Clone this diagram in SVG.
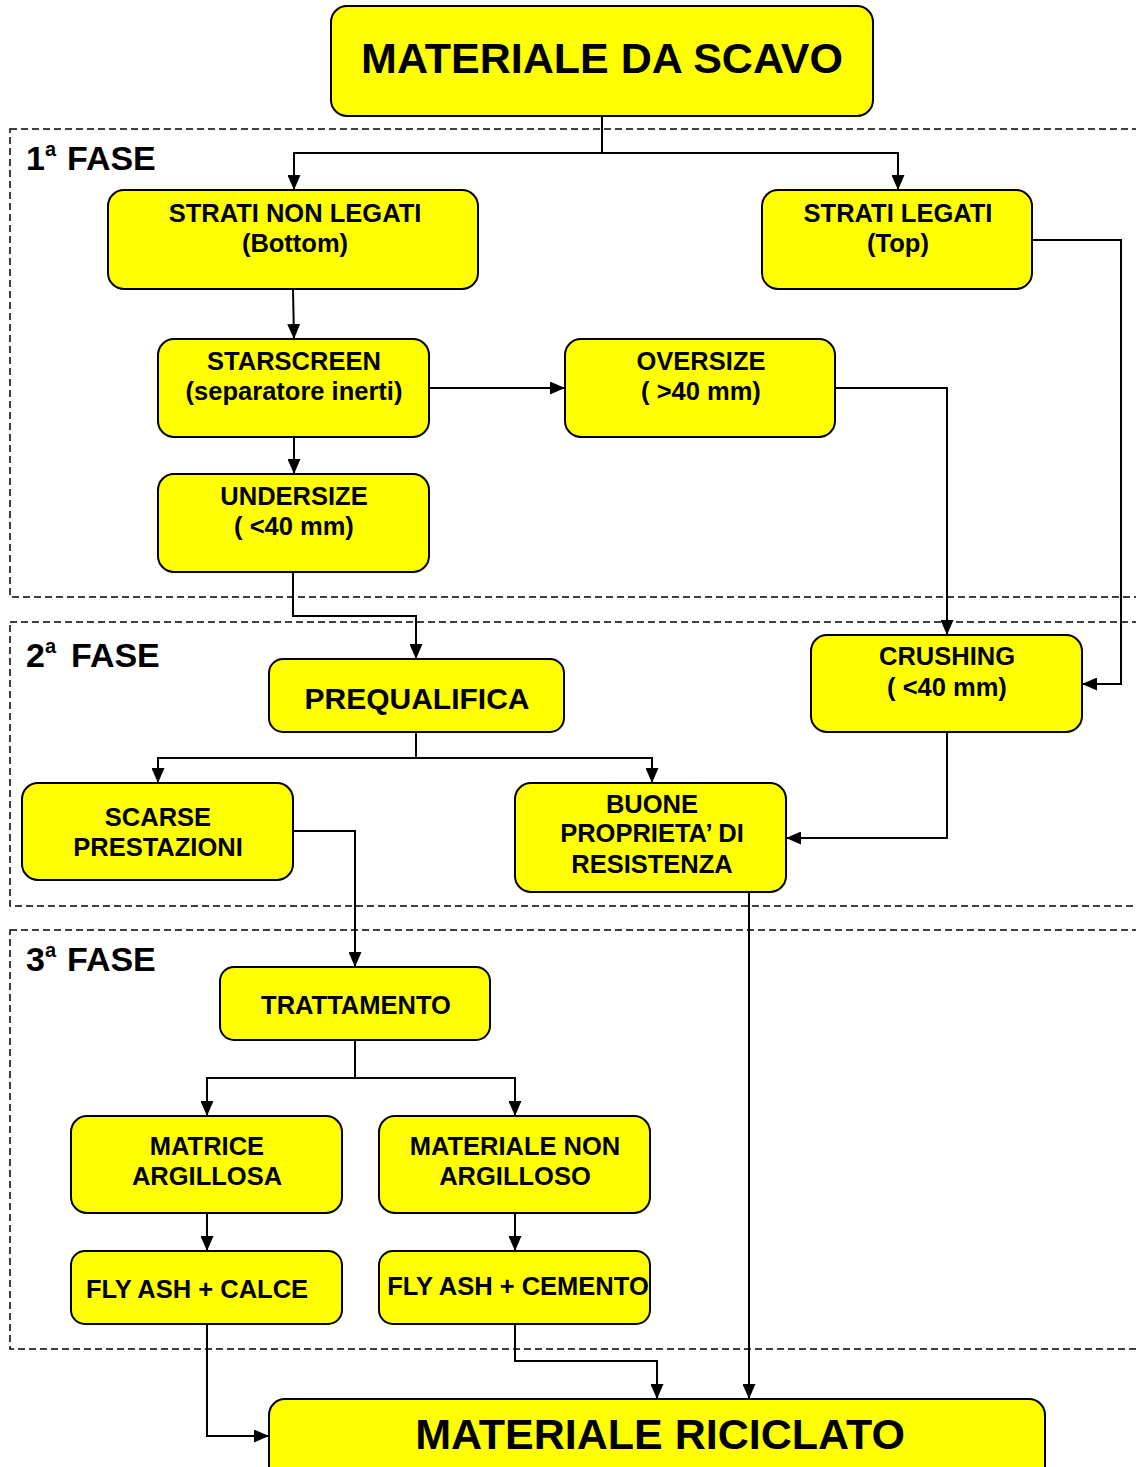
<svg xmlns="http://www.w3.org/2000/svg" width="1136" height="1467" viewBox="0 0 1136 1467">
<style>
.n{fill:#ffff00;stroke:#000;stroke-width:2}
.t{font-family:"Liberation Sans",Arial,sans-serif;font-weight:bold;font-size:25.5px;fill:#000;text-anchor:middle}
.big{font-size:43px}
.mid{font-size:30px}
.ph{font-family:"Liberation Sans",Arial,sans-serif;font-weight:bold;font-size:34px;fill:#000}
.sup{font-size:20px}
.phase{fill:none;stroke:#000;stroke-width:1.5;stroke-dasharray:7,4}
.c{fill:none;stroke:#000;stroke-width:2}
</style>
<defs>
<marker id="ah" markerUnits="userSpaceOnUse" markerWidth="15" markerHeight="13" refX="15" refY="6.5" orient="auto">
<path d="M0,0 L15,6.5 L0,13 Z" fill="#000"/>
</marker>
</defs>
<rect width="1136" height="1467" fill="#fff"/>
<g id="phases">
<rect class="phase" x="10" y="129" width="1140" height="468"/>
<rect class="phase" x="10" y="622" width="1140" height="284"/>
<rect class="phase" x="10" y="930" width="1140" height="419"/>
<text class="ph" x="26" y="170">1<tspan class="sup" x="45" dy="-14">a</tspan><tspan x="67" dy="14">FASE</tspan></text>
<text class="ph" x="26" y="667">2<tspan class="sup" x="45" dy="-14">a</tspan><tspan x="71" dy="14">FASE</tspan></text>
<text class="ph" x="26" y="971">3<tspan class="sup" x="45" dy="-14">a</tspan><tspan x="67" dy="14">FASE</tspan></text>
</g>
<g id="connectors">
<path class="c" d="M602,116 V153 H294 V190" marker-end="url(#ah)"/>
<path class="c" d="M602,153 H898 V190" marker-end="url(#ah)"/>
<path class="c" d="M293,289 L294,339" marker-end="url(#ah)"/>
<path class="c" d="M429,388 H565" marker-end="url(#ah)"/>
<path class="c" d="M294,437 V474" marker-end="url(#ah)"/>
<path class="c" d="M293,572 V616 H416 V659" marker-end="url(#ah)"/>
<path class="c" d="M835,388 H947 V635" marker-end="url(#ah)"/>
<path class="c" d="M1032,240 H1121 V684 H1082" marker-end="url(#ah)"/>
<path class="c" d="M947,732 V838 H786" marker-end="url(#ah)"/>
<path class="c" d="M416,732 V758 H158 V783" marker-end="url(#ah)"/>
<path class="c" d="M416,758 H652 V783" marker-end="url(#ah)"/>
<path class="c" d="M293,831 H355 V967" marker-end="url(#ah)"/>
<path class="c" d="M355,1040 V1078 H207 V1116" marker-end="url(#ah)"/>
<path class="c" d="M355,1078 H515 V1116" marker-end="url(#ah)"/>
<path class="c" d="M207,1213 V1251" marker-end="url(#ah)"/>
<path class="c" d="M515,1213 V1251" marker-end="url(#ah)"/>
<path class="c" d="M207,1324 V1436 H269" marker-end="url(#ah)"/>
<path class="c" d="M515,1324 V1361 H657 V1399" marker-end="url(#ah)"/>
<path class="c" d="M749,892 V1399" marker-end="url(#ah)"/>
</g>
<g id="materiale-da-scavo">
<rect class="n" x="331" y="6" width="542" height="110" rx="16"/>
<text class="t big" x="602" y="73">MATERIALE DA SCAVO</text>
</g>
<g id="strati-non-legati">
<rect class="n" x="108" y="190" width="370" height="99" rx="16"/>
<text class="t" x="295" y="222">STRATI NON LEGATI</text>
<text class="t" x="295" y="252">(Bottom)</text>
</g>
<g id="strati-legati">
<rect class="n" x="762" y="190" width="270" height="99" rx="16"/>
<text class="t" x="898" y="222">STRATI LEGATI</text>
<text class="t" x="898" y="252">(Top)</text>
</g>
<g id="starscreen">
<rect class="n" x="158" y="339" width="271" height="98" rx="16"/>
<text class="t" x="294" y="370">STARSCREEN</text>
<text class="t" x="294" y="400">(separatore inerti)</text>
</g>
<g id="oversize">
<rect class="n" x="565" y="339" width="270" height="98" rx="16"/>
<text class="t" x="701" y="370">OVERSIZE</text>
<text class="t" x="701" y="400">( &gt;40 mm)</text>
</g>
<g id="undersize">
<rect class="n" x="158" y="474" width="271" height="98" rx="16"/>
<text class="t" x="294" y="505">UNDERSIZE</text>
<text class="t" x="294" y="535">( &lt;40 mm)</text>
</g>
<g id="prequalifica">
<rect class="n" x="269" y="659" width="295" height="73" rx="14"/>
<text class="t mid" x="417" y="709">PREQUALIFICA</text>
</g>
<g id="crushing">
<rect class="n" x="811" y="635" width="271" height="97" rx="16"/>
<text class="t" x="947" y="665">CRUSHING</text>
<text class="t" x="947" y="696">( &lt;40 mm)</text>
</g>
<g id="scarse-prestazioni">
<rect class="n" x="22" y="783" width="271" height="97" rx="16"/>
<text class="t" x="158" y="826">SCARSE</text>
<text class="t" x="158" y="856">PRESTAZIONI</text>
</g>
<g id="buone-proprieta">
<rect class="n" x="515" y="783" width="271" height="109" rx="16"/>
<text class="t" x="652" y="813">BUONE</text>
<text class="t" x="652" y="842">PROPRIETA’ DI</text>
<text class="t" x="652" y="873">RESISTENZA</text>
</g>
<g id="trattamento">
<rect class="n" x="220" y="967" width="270" height="73" rx="14"/>
<text class="t" x="356" y="1014">TRATTAMENTO</text>
</g>
<g id="matrice-argillosa">
<rect class="n" x="71" y="1116" width="271" height="97" rx="16"/>
<text class="t" x="207" y="1155">MATRICE</text>
<text class="t" x="207" y="1185">ARGILLOSA</text>
</g>
<g id="materiale-non-argilloso">
<rect class="n" x="379" y="1116" width="271" height="97" rx="16"/>
<text class="t" x="515" y="1155">MATERIALE NON</text>
<text class="t" x="515" y="1185">ARGILLOSO</text>
</g>
<g id="fly-ash-calce">
<rect class="n" x="71" y="1251" width="271" height="73" rx="14"/>
<text class="t" x="197" y="1298">FLY ASH + CALCE</text>
</g>
<g id="fly-ash-cemento">
<rect class="n" x="379" y="1251" width="271" height="73" rx="14"/>
<text class="t" x="518" y="1295">FLY ASH + CEMENTO</text>
</g>
<g id="materiale-riciclato">
<rect class="n" x="269" y="1399" width="776" height="90" rx="16"/>
<text class="t big" x="660" y="1449">MATERIALE RICICLATO</text>
</g>
</svg>
